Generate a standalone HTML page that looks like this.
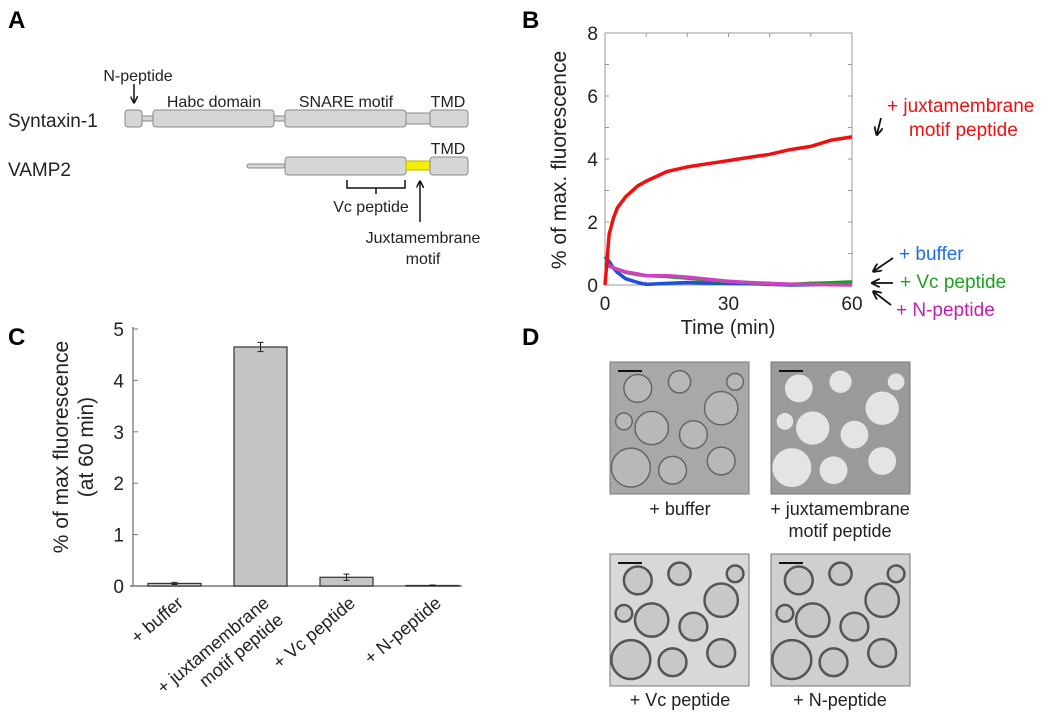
<!DOCTYPE html>
<html><head><meta charset="utf-8"><style>
html,body{margin:0;padding:0;background:#fff;}
svg{display:block;font-family:"Liberation Sans",Arial,sans-serif;}
</style></head><body>
<svg id="fig" width="1050" height="719" viewBox="0 0 1050 719">
<defs>
<marker id="ah" viewBox="0 0 10 10" refX="8" refY="5" markerWidth="5" markerHeight="5" orient="auto"><path d="M0,0 L10,5 L0,10" fill="none" stroke="#111" stroke-width="2"/></marker>
</defs>
<!-- Panel A -->
<g>
<text x="8" y="28" font-size="24" font-weight="bold">A</text>
<text x="8" y="127" font-size="19" fill="#222">Syntaxin-1</text>
<text x="8" y="176" font-size="19" fill="#222">VAMP2</text>
<g fill="#d6d6d6" stroke="#888" stroke-width="1">
<rect x="125" y="110" width="17" height="17" rx="3"/>
<rect x="142" y="116" width="11" height="5"/>
<rect x="153" y="110" width="121" height="17" rx="3"/>
<rect x="274" y="116" width="11" height="5"/>
<rect x="285" y="110" width="121" height="17" rx="3"/>
<rect x="406" y="113" width="24" height="11"/>
<rect x="430" y="110" width="38" height="17" rx="3"/>
<rect x="247" y="164" width="38" height="4" rx="2"/>
<rect x="285" y="157" width="121" height="18" rx="3"/>
<rect x="406" y="161" width="24" height="9" fill="#f5f000" stroke="#bbb000"/>
<rect x="430" y="157" width="38" height="18" rx="3"/>
</g>
<g font-size="16" fill="#222" text-anchor="middle">
<text x="138" y="81">N-peptide</text>
<text x="214" y="107">Habc domain</text>
<text x="346" y="107">SNARE motif</text>
<text x="448" y="107">TMD</text>
<text x="448" y="154">TMD</text>
<text x="371" y="212">Vc peptide</text>
<text x="423" y="243">Juxtamembrane</text>
<text x="423" y="264">motif</text>
</g>
<g stroke="#111" stroke-width="1.5" fill="none">
<line x1="134" y1="84" x2="134" y2="102" marker-end="url(#ah)"/>
<path d="M347,180 V188 H405 V180 M376,188 V194"/>
<line x1="420" y1="222" x2="420" y2="182" marker-end="url(#ah)"/>
</g>
</g>
<!-- Panel B -->
<g id="pb">
<text x="522" y="28" font-size="24" font-weight="bold">B</text>
<text transform="translate(566,160) rotate(-90)" text-anchor="middle" font-size="21" fill="#222">% of max. fluorescence</text>
<text x="728" y="334" text-anchor="middle" font-size="20" fill="#222">Time (min)</text>
<rect x="605" y="33" width="247" height="252" fill="none" stroke="#999" stroke-width="1"/>
<g id="bticks"></g>
<g id="blines"></g>
<g font-size="19">
<text x="887" y="112" fill="#f01010">+ juxtamembrane</text>
<text x="909" y="136" fill="#f01010">motif peptide</text>
<text x="899" y="260" fill="#1e6ee8">+ buffer</text>
<text x="900" y="288" fill="#20a020">+ Vc peptide</text>
<text x="896" y="316" fill="#c020b0">+ N-peptide</text>
</g>
<g stroke="#111" stroke-width="1.8" fill="none">
<line x1="881" y1="118" x2="877" y2="134" marker-end="url(#ah)"/>
<line x1="893" y1="258" x2="874" y2="271" marker-end="url(#ah)"/>
<line x1="893" y1="283" x2="873" y2="283" marker-end="url(#ah)"/>
<line x1="891" y1="305" x2="874" y2="292" marker-end="url(#ah)"/>
</g>
</g>
<!-- Panel C -->
<g id="pc">
<text x="8" y="345" font-size="24" font-weight="bold">C</text>
<text transform="translate(68,447) rotate(-90)" text-anchor="middle" font-size="21" fill="#222">% of max fluorescence</text>
<text transform="translate(93,447) rotate(-90)" text-anchor="middle" font-size="21" fill="#222">(at 60 min)</text>
<g id="cticks"></g>
<g id="cbars"></g>
</g>
<!-- Panel D -->
<g>
<text x="522" y="345" font-size="24" font-weight="bold">D</text>
<g id="dimgs"></g>
<g font-size="18" fill="#222" text-anchor="middle">
<text x="680" y="515">+ buffer</text>
<text x="840" y="515">+ juxtamembrane</text>
<text x="840" y="537">motif peptide</text>
<text x="680" y="706">+ Vc peptide</text>
<text x="840" y="706">+ N-peptide</text>
</g>
</g>
</svg>
<script>
const NS="http://www.w3.org/2000/svg";
// Panel B data
const bTimes=[0,1,2,3,5,8,10,15,20,25,30,35,40,45,50,55,60];
const bJuxta=[0,1.6,2.1,2.45,2.8,3.15,3.3,3.6,3.75,3.85,3.95,4.05,4.15,4.3,4.4,4.6,4.7];
const bBuffer=[0.9,0.75,0.55,0.4,0.2,0.08,0.02,0.05,0.08,0.06,0.05,0.04,0.02,0.0,0.01,0.03,0.05];
const bVc=[0.7,0.6,0.55,0.5,0.4,0.33,0.3,0.27,0.22,0.15,0.1,0.07,0.03,0.02,0.05,0.07,0.1];
const bN=[0.65,0.62,0.55,0.5,0.42,0.35,0.3,0.3,0.25,0.18,0.12,0.08,0.05,0.03,0.02,0.01,0.0];
const bYTicks=[0,2,4,6,8];
const bXTicks=[0,30,60];
// Panel C data
const cCats=["+ buffer","+ juxtamembrane|motif peptide","+ Vc peptide","+ N-peptide"];
const cVals=[0.05,4.65,0.17,0.01];
const cErr=[0.02,0.09,0.06,0.01];
const cYTicks=[0,1,2,3,4,5];

function el(tag,attrs,parent){const e=document.createElementNS(NS,tag);for(const k in attrs)e.setAttribute(k,attrs[k]);parent.appendChild(e);return e;}
const bx=t=>605+t/60*247, by=v=>285-v/8*252;
const bt=document.getElementById('bticks');
for(let t=0;t<=60;t+=10){
 const a=el('line',{x1:bx(t),x2:bx(t),y1:285,y2:281,stroke:'#999'},bt);
 const b=el('line',{x1:bx(t),x2:bx(t),y1:33,y2:37,stroke:'#999'},bt);
}
for(let v=0;v<=8;v++){
 const a=el('line',{x1:605,x2:609,y1:by(v),y2:by(v),stroke:'#999'},bt);
 const b=el('line',{x1:852,x2:848,y1:by(v),y2:by(v),stroke:'#999'},bt);
}
bYTicks.forEach(v=>{const t=el('text',{x:598,y:by(v)+7,'text-anchor':'end','font-size':19,fill:'#222'},bt);t.textContent=v;});
bXTicks.forEach(v=>{const t=el('text',{x:bx(v),y:310,'text-anchor':'middle','font-size':19,fill:'#222'},bt);t.textContent=v;});
const bl=document.getElementById('blines');
[[bBuffer,'#1f4fe0','line-buffer'],[bVc,'#209a20','line-vc-peptide'],[bN,'#d040c0','line-n-peptide'],[bJuxta,'#f01010','line-juxtamembrane']].forEach(([arr,c,n])=>{
 const d=arr.map((v,i)=>(i?'L':'M')+bx(bTimes[i]).toFixed(1)+','+by(v).toFixed(1)).join(' ');
 const p=el('path',{d:d,fill:'none',stroke:c,'stroke-width':3.5,'stroke-linejoin':'round'},bl);
 
 
});
// Panel C
const cy=v=>586-v/5*257, cx=i=>148+i*86;
const ct=document.getElementById('cticks');
const ax=el('line',{x1:133,x2:133,y1:327,y2:586,stroke:'#777','stroke-width':1.3},ct);
const xa=el('line',{x1:130,x2:462,y1:586,y2:586,stroke:'#777','stroke-width':1.5},ct);
cYTicks.forEach(v=>{
 const l=el('line',{x1:133,x2:138,y1:cy(v),y2:cy(v),stroke:'#777'},ct);
 const t=el('text',{x:124,y:cy(v)+7,'text-anchor':'end','font-size':19,fill:'#222'},ct);t.textContent=v;
});
const cb=document.getElementById('cbars');
cVals.forEach((v,i)=>{
 const r=el('rect',{x:cx(i),y:cy(v),width:53,height:586-cy(v),fill:'#c4c4c4',stroke:'#333','stroke-width':1.2},cb);
 
 
 const m=cx(i)+26.5;
 const e=el('path',{d:`M${m},${cy(v+cErr[i])} V${cy(v-cErr[i])} M${m-3},${cy(v+cErr[i])} H${m+3} M${m-3},${cy(v-cErr[i])} H${m+3}`,stroke:'#222',fill:'none'},cb);
 
 
 const lines=cCats[i].split('|');
 const g=el('g',{transform:`translate(${m+4},${598}) rotate(-40)`},cb);
 
 
 lines.forEach((s,j)=>{const t=el('text',{x:0,y:9+j*22,'text-anchor':'end','font-size':18,fill:'#222'},g);t.textContent=s;});
});
// Panel D images
const di=document.getElementById('dimgs');
const imgs=[[610,362,'#a8a8a8','img-buffer'],[771,362,'#9a9a9a','img-juxtamembrane'],[610,554,'#d8d8d8','img-vc-peptide'],[771,554,'#cfcfcf','img-n-peptide']];
const circ=[[0.2,0.2,0.1],[0.5,0.15,0.08],[0.8,0.35,0.12],[0.3,0.5,0.12],[0.6,0.55,0.1],[0.15,0.8,0.14],[0.45,0.82,0.1],[0.8,0.75,0.1],[0.1,0.45,0.06],[0.9,0.15,0.06]];
imgs.forEach(([x,y,c,n],k)=>{
 const g=el('g',{},di);
 el('rect',{x:x,y:y,width:139,height:132,fill:c,stroke:'#777'},g);
 circ.forEach(([a,b,r])=>{
  const fill=k==1?'#e4e4e4':(k==0?'#b8b8b8':'#c8c8c8');
  const st=k==1?'none':(k==0?'#666':'#555');
  el('circle',{cx:x+a*139,cy:y+b*132,r:r*139,fill:fill,stroke:st,'stroke-width':k>=2?2.5:1.5},g);
 });
 el('line',{x1:x+8,x2:x+32,y1:y+9,y2:y+9,stroke:'#111','stroke-width':2},g);
});
</script>
</body></html>
